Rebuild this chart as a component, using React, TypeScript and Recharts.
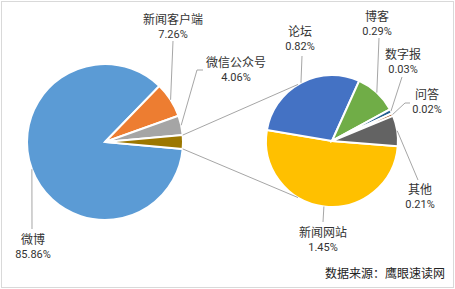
import React from "react";
import { PieChart, Pie, Cell } from "recharts";

// main pie
const mainNames = ["微博", "新闻客户端", "微信公众号"];
const mainValues = [85.86, 7.26, 4.06];
const mainColors = ["#5B9BD5", "#ED7D31", "#A5A5A5"];
const otherColor = "#9C7700";

// second pie (breakdown of the rest)
const subNames = ["新闻网站", "论坛", "博客", "数字报", "问答", "其他"];
const subValues = [1.45, 0.82, 0.29, 0.03, 0.02, 0.21];
const subColors = ["#FFC000", "#4472C4", "#70AD47", "#255E91", "#9E480E", "#636363"];

const sourceText = "数据来源：鹰眼速读网";

// layout
const LEFT = { cx: 105, cy: 142, r: 78 };
const RIGHT = { cx: 332, cy: 141, r: 66, start: 355.5 };
const CONNECT_ANGLE = 59; // where the connector lines meet the second pie, from 180deg

// label text centre + leader line start, relative to pie centre
const mainLabelPos = [
  { tx: -72, ty: 98, ax: -73, ay: 87 },
  { tx: 68, ty: -122, ax: 68, ay: -101 },
  { tx: 131, ty: -79, ax: 92, ay: -72, stub: 98 },
];
const subLabelPos = [
  { tx: -9, ty: 92, ax: -9, ay: 81 },
  { tx: -32, ty: -109, ax: -30, ay: -85 },
  { tx: 45, ty: -124, ax: 47, ay: -103 },
  { tx: 71, ty: -86, ax: 70, ay: -64 },
  { tx: 95, ty: -46, ax: 73, ay: -38, stub: 78 },
  { tx: 88, ty: 49, ax: 86, ay: 39 },
];

const otherTotal = subValues.reduce((a, b) => a + b, 0);
const mainData = [
  ...mainNames.map((name, i) => ({ name, value: mainValues[i] })),
  { name: "其它", value: +otherTotal.toFixed(2) },
];
const subData = subNames.map((name, i) => ({ name, value: subValues[i] }));

const leftStart = 360 - (otherTotal / 100) * 180;
const RAD = Math.PI / 180;
const lineColor = "#A6A6A6";
const textColor = "#333";
const font = "'Noto Sans CJK SC', 'Microsoft YaHei', sans-serif";
const numFont = "Roboto, 'Liberation Sans', sans-serif";

function makeLabel(positions: any[], names: string[], values: number[]) {
  return (props: any) => {
    const { cx, cy, midAngle, outerRadius, index } = props;
    const pos = positions[index];
    if (!pos) {
      // aggregated slice: draw the two connector lines to the second pie
      if (index !== names.length) return null;
      const half = (otherTotal / 100) * 180;
      const pts = [half, -half].map((a, k) => {
        const b = k === 0 ? 180 - CONNECT_ANGLE : 180 + CONNECT_ANGLE;
        return {
          x1: cx + outerRadius * Math.cos(a * RAD),
          y1: cy - outerRadius * Math.sin(a * RAD),
          x2: RIGHT.cx + RIGHT.r * Math.cos(b * RAD),
          y2: RIGHT.cy - RIGHT.r * Math.sin(b * RAD),
        };
      });
      return (
        <g>
          {pts.map((p, k) => (
            <line key={k} {...p} stroke={lineColor} strokeWidth={1} />
          ))}
        </g>
      );
    }
    const px = cx + outerRadius * Math.cos(-midAngle * RAD);
    const py = cy + outerRadius * Math.sin(-midAngle * RAD);
    const ax = cx + pos.ax;
    const ay = cy + pos.ay;
    const pts = pos.stub !== undefined
      ? `${px},${py} ${ax},${ay} ${cx + pos.stub},${ay}`
      : `${px},${py} ${ax},${ay}`;
    const x = cx + pos.tx;
    const y = cy + pos.ty + 4;
    return (
      <g>
        <polyline points={pts} fill="none" stroke={lineColor} strokeWidth={1} />
        <text x={x} y={y} textAnchor="middle" fontSize={12} fontFamily={font} fill={textColor}>
          {names[index]}
        </text>
        <text x={x} y={y + 14} textAnchor="middle" fontSize={11} fontFamily={numFont} fill={textColor}>
          {values[index].toFixed(2)}%
        </text>
      </g>
    );
  };
}

export default function App() {
  return (
    <div style={{ position: "fixed", left: 0, top: 0, width: 455, height: 289, background: "#fff" }}>
      <PieChart width={455} height={289} margin={{ top: 0, right: 0, bottom: 0, left: 0 }}>
        <Pie
          data={mainData}
          dataKey="value"
          nameKey="name"
          cx={LEFT.cx}
          cy={LEFT.cy}
          outerRadius={LEFT.r}
          startAngle={leftStart}
          endAngle={leftStart - 360}
          stroke="#fff"
          strokeWidth={2}
          label={makeLabel(mainLabelPos, mainNames, mainValues)}
          labelLine={false}
          isAnimationActive={false}
        >
          {mainData.map((d, i) => (
            <Cell key={d.name} fill={i < mainColors.length ? mainColors[i] : otherColor} />
          ))}
        </Pie>
        <Pie
          data={subData}
          dataKey="value"
          nameKey="name"
          cx={RIGHT.cx}
          cy={RIGHT.cy}
          outerRadius={RIGHT.r}
          startAngle={RIGHT.start}
          endAngle={RIGHT.start - 360}
          stroke="#fff"
          strokeWidth={2}
          label={makeLabel(subLabelPos, subNames, subValues)}
          labelLine={false}
          isAnimationActive={false}
        >
          {subData.map((d, i) => (
            <Cell key={d.name} fill={subColors[i]} />
          ))}
        </Pie>
      </PieChart>
      <div
        style={{
          position: "absolute",
          right: 10,
          top: 264,
          fontSize: 12,
          fontFamily: font,
          color: "#222",
          lineHeight: "18px",
        }}
      >
        {sourceText}
      </div>
      <div
        style={{
          position: "absolute",
          left: 1,
          top: 1,
          width: 453,
          height: 287,
          boxSizing: "border-box",
          border: "1px solid #D9D9D9",
          pointerEvents: "none",
        }}
      />
    </div>
  );
}
